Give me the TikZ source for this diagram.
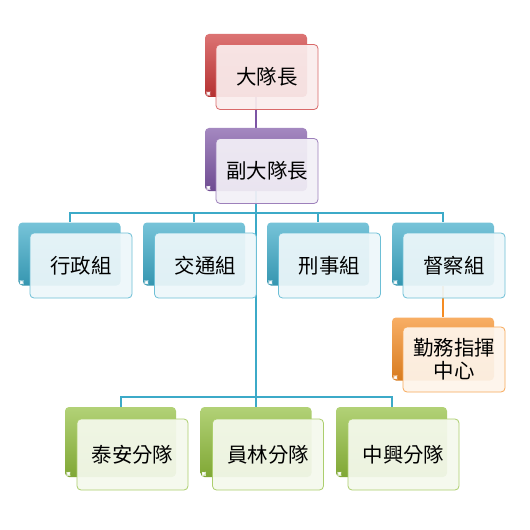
\documentclass[tikz,border=0pt]{standalone}
\usepackage{fontspec}
\setmainfont{Noto Sans CJK TC}
\usetikzlibrary{backgrounds}
\definecolor{ldred}{RGB}{205,55,55}
\definecolor{ldpurple}{RGB}{125,85,165}
\definecolor{ldblue}{RGB}{60,170,200}
\definecolor{ldorange}{RGB}{245,140,35}
\definecolor{ldgreen}{RGB}{145,190,60}

\begin{document}
\begin{tikzpicture}[x=1bp,y=-1bp,
  backbox/.style={rectangle,rounded corners=4bp,inner sep=0pt,minimum width=102bp,minimum height=63bp,
    top color=#1!70!white,middle color=#1,bottom color=#1!88!black,
    path picture={\fill[white] ([shift={(1.5bp,1.5bp)}]path picture bounding box.south west) rectangle ++(3.5bp,3.5bp);}},
  frontbox/.style={rectangle,rounded corners=4bp,inner sep=2pt,minimum width=102bp,minimum height=65bp,
    draw=#1!75,line width=0.8bp,fill=#1!9,fill opacity=0.93,text opacity=1,align=center,
    font=\fontsize{20.5}{23}\selectfont},
  link/.style={draw=#1,line width=2bp}]
\useasboundingbox (0,0) rectangle (530,530);

% head
\node[backbox=ldred] (dd-b) at (256,65.5) {};
\node[frontbox=ldred] (dd) at (267,77) {大隊長};
\node[backbox=ldpurple] (fdd-b) at (256,159.5) {};
\node[frontbox=ldpurple] (fdd) at (267,171) {副大隊長};

% groups
\node[backbox=ldblue] (g1-b) at (69.5,254) {};
\node[frontbox=ldblue] (g1) at (81,265.5) {行政組};
\node[backbox=ldblue] (g2-b) at (194,254) {};
\node[frontbox=ldblue] (g2) at (205.5,265.5) {交通組};
\node[backbox=ldblue] (g3-b) at (318,254) {};
\node[frontbox=ldblue] (g3) at (329.5,265.5) {刑事組};
\node[backbox=ldblue] (g4-b) at (443,254) {};
\node[frontbox=ldblue] (g4) at (454,265.5) {督察組};
\node[backbox=ldorange] (zx-b) at (443,349) {};
\node[frontbox=ldorange] (zx) at (454,359.5) {勤務指揮\\中心};

% squads
\node[backbox=ldgreen,minimum width=111bp,minimum height=70bp] (s1-b) at (120.5,442) {};
\node[frontbox=ldgreen,minimum width=111bp,minimum height=71bp] (s1) at (132.5,454.5) {泰安分隊};
\node[backbox=ldgreen,minimum width=111bp,minimum height=70bp] (s2-b) at (256,442) {};
\node[frontbox=ldgreen,minimum width=111bp,minimum height=71bp] (s2) at (268,454.5) {員林分隊};
\node[backbox=ldgreen,minimum width=111bp,minimum height=70bp] (s3-b) at (391.5,442) {};
\node[frontbox=ldgreen,minimum width=111bp,minimum height=71bp] (s3) at (403.5,454.5) {中興分隊};

\coordinate (bar1) at (256,213);
\coordinate (bar2) at (256,397);

\begin{pgfonlayer}{background}
\fill[white] (0,0) rectangle (530,530);
\draw[link=ldpurple] (dd-b) -- (fdd-b);
\draw[link=ldblue] (fdd-b) -- (bar1) -| (g1-b);
\draw[link=ldblue] (bar1) -| (g2-b);
\draw[link=ldblue] (bar1) -| (g3-b);
\draw[link=ldblue] (bar1) -| (g4-b);
\draw[link=ldblue] (bar1) -- (bar2) -| (s1-b);
\draw[link=ldblue] (bar2) -- (s2-b);
\draw[link=ldblue] (bar2) -| (s3-b);
\draw[link=ldorange] (g4-b) -- (zx-b);
\end{pgfonlayer}

\end{tikzpicture}
\end{document}
